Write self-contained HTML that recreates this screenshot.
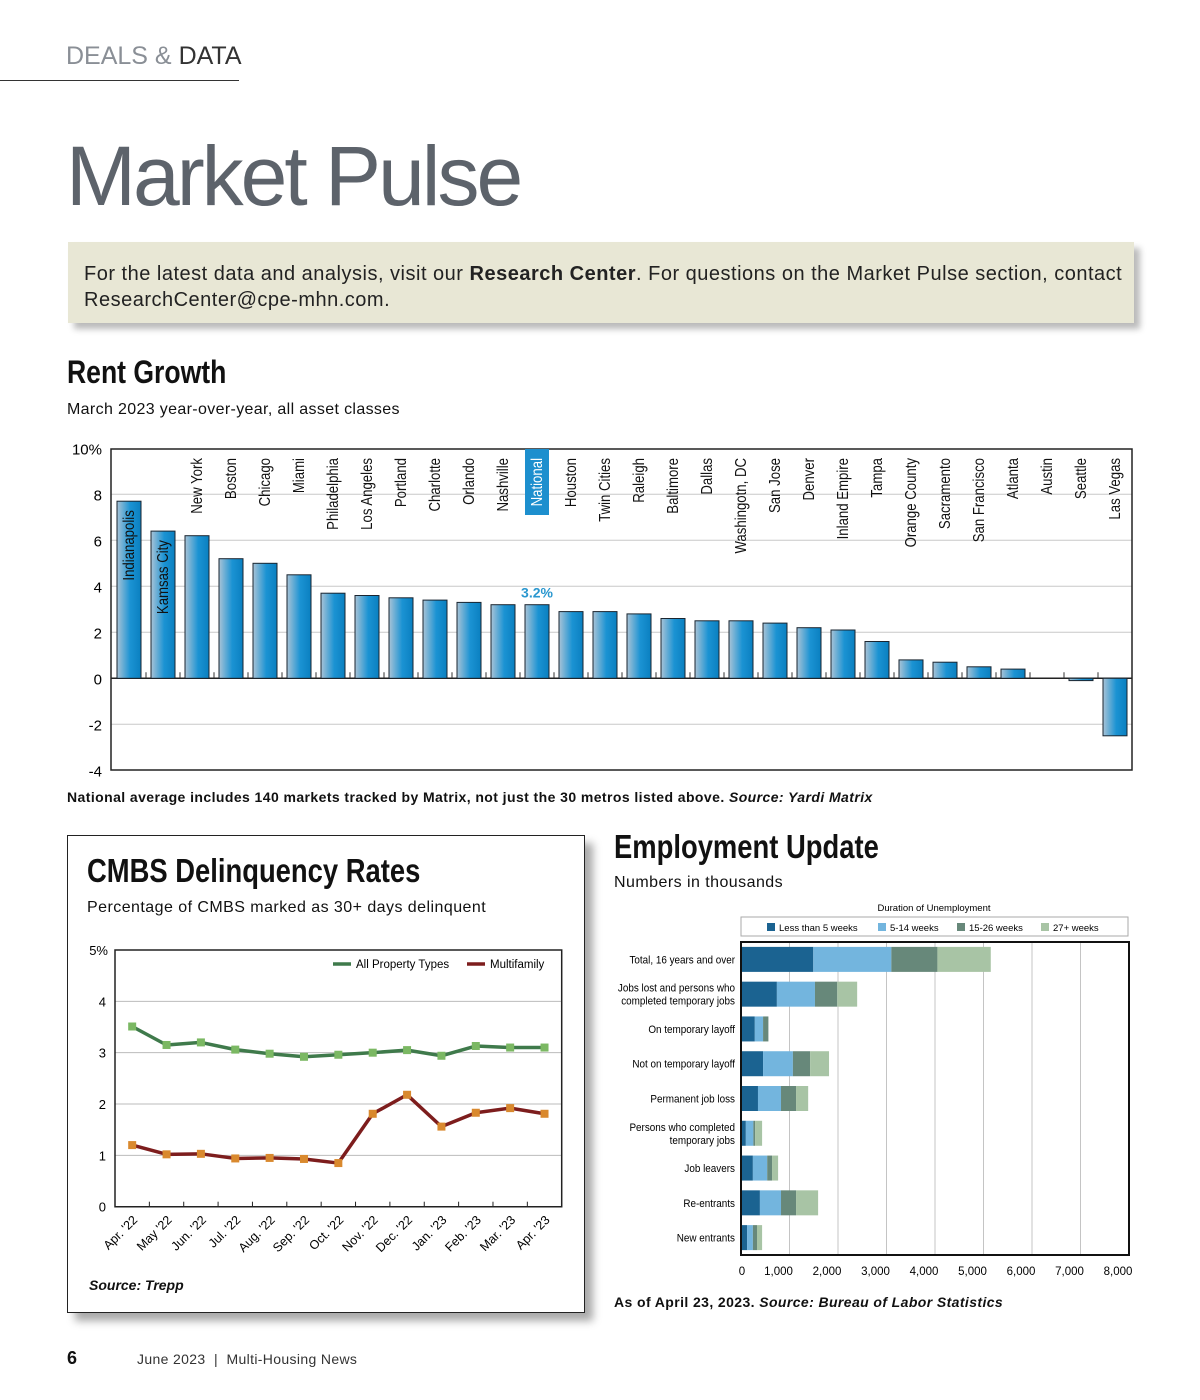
<!DOCTYPE html>
<html><head><meta charset="utf-8">
<style>
body{margin:0;width:1200px;height:1400px;background:#fff;font-family:"Liberation Sans",sans-serif;position:relative;overflow:hidden;color:#111}
.abs{position:absolute;white-space:nowrap}
.narrow{font-family:"Liberation Sans",sans-serif;font-weight:bold;transform:scaleX(0.83);transform-origin:0 0}
.sp{letter-spacing:0.35px}
svg text{font-family:"Liberation Sans",sans-serif}
#svg{z-index:5;pointer-events:none}
</style></head><body>
<div class="abs" style="left:66px;top:42px;font-size:25px;"><span style="color:#8a8f96">DEALS &amp; </span><span style="color:#333">DATA</span></div>
<div class="abs" style="left:0;top:80px;width:239px;height:1px;background:#333"></div>
<div class="abs" style="left:66px;top:128px;font-size:84px;color:#5d636b;letter-spacing:-3px;font-weight:300">Market Pulse</div>
<div class="abs" style="left:68px;top:242px;width:1066px;height:81px;background:#e8e7d5;box-shadow:6px 6px 6px #bbb"></div>
<div class="abs" style="left:84px;top:261px;font-size:20px;letter-spacing:0.5px;line-height:26px;color:#222">For the latest data and analysis, visit our <b>Research Center</b>. For questions on the Market Pulse section, contact<br>ResearchCenter@cpe-mhn.com.</div>

<div class="abs narrow" style="left:67px;top:354px;font-size:32px">Rent Growth</div>
<div class="abs sp" style="left:67px;top:401px;font-size:16px">March 2023 year-over-year, all asset classes</div>
<div class="abs" style="left:67px;top:789px;font-size:14px;font-weight:bold;letter-spacing:0.42px">National average includes 140 markets tracked by Matrix, not just the 30 metros listed above. <i>Source: Yardi Matrix</i></div>

<div class="abs" style="left:67px;top:835px;width:516px;height:476px;border:1.5px solid #222;box-shadow:8px 8px 8px #aaa;background:#fff"></div>
<div class="abs narrow" style="left:87px;top:852px;font-size:33px">CMBS Delinquency Rates</div>
<div class="abs sp" style="left:87px;top:899px;font-size:16px;letter-spacing:0.45px">Percentage of CMBS marked as 30+ days delinquent</div>
<div class="abs" style="left:89px;top:1277px;font-size:14px;font-weight:bold;font-style:italic">Source: Trepp</div>

<div class="abs narrow" style="left:614px;top:828px;font-size:33px">Employment Update</div>
<div class="abs sp" style="left:614px;top:874px;font-size:16px;letter-spacing:0.45px">Numbers in thousands</div>
<div class="abs" style="left:614px;top:1294px;font-size:14px;font-weight:bold;letter-spacing:0.4px">As of April 23, 2023. <i>Source: Bureau of Labor Statistics</i></div>

<div class="abs" style="left:67px;top:1348px;font-size:18px;font-weight:bold">6</div>
<div class="abs sp" style="left:137px;top:1351px;font-size:14px;color:#333">June 2023 &nbsp;|&nbsp; Multi-Housing News</div>
<svg class="abs" style="left:0;top:0" width="1200" height="1400" id="svg"></svg>

<script>
const rentCities=["Indianapolis","Kamsas City","New York","Boston","Chicago","Miami","Philadelphia","Los Angeles","Portland","Charlotte","Orlando","Nashville","National","Houston","Twin Cities","Raleigh","Baltimore","Dallas","Washingotn, DC","San Jose","Denver","Inland Empire","Tampa","Orange County","Sacramento","San Francisco","Atlanta","Austin","Seattle","Las Vegas"];
const rentValues=[7.7,6.4,6.2,5.2,5.0,4.5,3.7,3.6,3.5,3.4,3.3,3.2,3.2,2.9,2.9,2.8,2.6,2.5,2.5,2.4,2.2,2.1,1.6,0.8,0.7,0.5,0.4,0,-0.1,-2.5];
const rentTicks=[10,8,6,4,2,0,-2,-4];

const cmbsMonths=["Apr. '22","May '22","Jun. '22","Jul. '22","Aug. '22","Sep. '22","Oct. '22","Nov. '22","Dec. '22","Jan. '23","Feb. '23","Mar. '23","Apr. '23"];
const cmbsAll=[3.51,3.15,3.2,3.06,2.98,2.92,2.96,3.0,3.05,2.94,3.13,3.1,3.1];
const cmbsMulti=[1.2,1.02,1.03,0.94,0.95,0.93,0.85,1.81,2.18,1.56,1.83,1.92,1.81];
const cmbsTicks=[0,1,2,3,4,5];

const empCategories=[["Total, 16 years and over"],["Jobs lost and persons who","completed temporary jobs"],["On temporary layoff"],["Not on temporary layoff"],["Permanent job loss"],["Persons who completed","temporary jobs"],["Job leavers"],["Re-entrants"],["New entrants"]];
const empLess5=[1490,740,285,455,350,100,245,390,125];
const emp5to14=[1610,785,170,615,475,155,295,435,120];
const emp15to26=[950,460,110,355,310,35,100,310,85];
const emp27plus=[1100,410,0,390,250,145,125,455,105];
const empSeriesNames=["Less than 5 weeks","5-14 weeks","15-26 weeks","27+ weeks"];
const empTicks=[0,1000,2000,3000,4000,5000,6000,7000,8000];

const NS="http://www.w3.org/2000/svg";
const svg=document.getElementById('svg');
function mk(tag,attrs,parent){const e=document.createElementNS(NS,tag);for(const k in attrs)e.setAttribute(k,attrs[k]);(parent||svg).appendChild(e);return e;}
function txt(s,attrs){const t=mk('text',attrs);t.textContent=s;return t;}
const defs=mk('defs',{});
const lg=mk('linearGradient',{id:'barg',x1:'0',x2:'1',y1:'0',y2:'0'},defs);
mk('stop',{offset:'0','stop-color':'#a9c3d6'},lg);
mk('stop',{offset:'0.55','stop-color':'#1b93d3'},lg);
mk('stop',{offset:'1','stop-color':'#0a7fc0'},lg);

// ---- Rent growth chart
const rL=111,rR=1132,rT=449,rB=770;
const ry=v=>678.3-(v)*23;
const slot=34;
const rx=i=>117+slot*i;
rentTicks.forEach(t=>{
  const y=ry(t);
  if(t!==10&&t!==-4){const g=mk('line',{x1:rL,x2:rR,y1:y,y2:y,stroke:t===0?'#222':'#c8c8c8','stroke-width':t===0?1.5:1});
  
  }
  const l=txt((t===10?'10%':String(t)),{x:rL-9,y:y+6,'text-anchor':'end','font-size':15});
  
  
});
const rf=mk('rect',{x:rL,y:rT,width:rR-rL,height:rB-rT,fill:'none',stroke:'#222','stroke-width':1.5});


for(let i=1;i<rentCities.length;i++){
  const x=rx(i)-5;
  const tk=mk('line',{x1:x,x2:x,y1:ry(0),y2:ry(0)-6,stroke:'#333','stroke-width':1});
  
  
}
rentValues.forEach((v,i)=>{
  const x=rx(i),w=24,c=x+w/2;
  const top=Math.min(ry(v),ry(0)),h=Math.abs(ry(v)-ry(0));
  if(h>0.5){
    const b=mk('rect',{x:x,y:top,width:w,height:h,fill:'url(#barg)',stroke:'#1a2530','stroke-width':1});
    
    
  }
  const inside=(i<2);
  const ty=inside?ry(v)+9:458;
  if(rentCities[i]==='National'){
    const hb=mk('rect',{x:c-12,y:449,width:24,height:66,fill:'#1d8fce'});
    
    
    const vl=txt('3.2%',{x:c,y:ry(v)-7,'text-anchor':'middle','font-size':14,'font-weight':'bold',fill:'#2a97cf'});
    
    
  }
  const t=txt(rentCities[i],{x:0,y:0,'text-anchor':'end','font-size':15,fill:rentCities[i]==='National'?'#fff':'#111',transform:`translate(${c+5},${ty}) rotate(-90) scale(0.88,1.05)`});
  
  
});

// ---- CMBS chart
const cL=115,cR=561.7,cT=950,cB=1206.7;
const cy=v=>cB-v*(cB-cT)/5;
const cs=(cR-cL)/cmbsMonths.length;
const cx=i=>cL+cs*(i+0.5);
cmbsTicks.forEach(t=>{
  const y=cy(t);
  if(t>0&&t<5){const g=mk('line',{x1:cL,x2:cR,y1:y,y2:y,stroke:'#bbb','stroke-width':1});
  
  }
  const l=txt(t===5?'5%':String(t),{x:t===5?108:106,y:y+5,'text-anchor':'end','font-size':13});
  
  
});
const cf=mk('path',{d:`M${cL},${cT} V${cB} H${cR} V${cT} Z`,fill:'none',stroke:'#222','stroke-width':1.5});


cmbsMonths.forEach((m,i)=>{
  if(i>0){const tk=mk('line',{x1:cL+cs*i,x2:cL+cs*i,y1:cB,y2:cB-5,stroke:'#222'});
  
  }
  const t=txt(m,{x:0,y:0,'text-anchor':'end','font-size':12.5,transform:`translate(${cx(i)+6},${cB+14}) rotate(-45)`});
  
  
});
function series(vals,line,mark,name){
  const p=mk('polyline',{points:vals.map((v,i)=>cx(i)+','+cy(v)).join(' '),fill:'none',stroke:line,'stroke-width':3.5,'stroke-linejoin':'round'});
  
  
  vals.forEach((v,i)=>{
    const r=mk('rect',{x:cx(i)-4,y:cy(v)-4,width:8,height:8,fill:mark});
    
    
  });
}
series(cmbsAll,'#3f7a4b','#7bb863','all-property-types');
series(cmbsMulti,'#7d1d1d','#d9892e','multifamily');
[['All Property Types','#3f7a4b',333],['Multifamily','#7d1d1d',467]].forEach(([n,c,x])=>{
  const l=mk('line',{x1:x,x2:x+18,y1:964,y2:964,stroke:c,'stroke-width':3.5});
  
  
  const t=txt(n,{x:x+23,y:968,'font-size':11.5});
  
  
});

// ---- Employment chart
const eL=741,eR=1129,eT=942,eB=1255;
const ex=v=>eL+v*(eR-eL)/8000;
const band=(eB-eT)/empCategories.length;
const colors=['#1b6391','#73b5de','#67887a','#a8c4a5'];
const dt=txt('Duration of Unemployment',{x:934,y:911,'text-anchor':'middle','font-size':9.5});


const lb=mk('rect',{x:741,y:917,width:387,height:19,fill:'#fff',stroke:'#aaa'});


const lx=[767,878,957,1041];
empSeriesNames.forEach((n,k)=>{
  const s=mk('rect',{x:lx[k],y:923,width:8,height:8,fill:colors[k]});
  
  
  const t=txt(n,{x:lx[k]+12,y:931,'font-size':9.5});
  
  
});
empTicks.forEach(t=>{
  if(t>0&&t<8000){const g=mk('line',{x1:ex(t),x2:ex(t),y1:eT,y2:eB,stroke:'#c4c4c4'});
  
  }
  const l=txt(t.toLocaleString('en-US'),{x:t===0?ex(t)+1:ex(t)-11,y:1275,'text-anchor':'middle','font-size':11.5});
  
  
});
const allSeries=[empLess5,emp5to14,emp15to26,emp27plus];
empCategories.forEach((lines,i)=>{
  const c=eT+band*(i+0.5);
  let acc=0;
  allSeries.forEach((s,k)=>{
    const r=mk('rect',{x:ex(acc),y:c-12.5,width:ex(acc+s[i])-ex(acc),height:25,fill:colors[k]});
    
    
    acc+=s[i];
  });
  lines.forEach((ln,j)=>{
    const t=txt(ln,{x:0,y:0,'text-anchor':'end','font-size':11,transform:`translate(735,${c+4+(j-(lines.length-1)/2)*13}) scale(0.9,1)`});
    
    
  });
});
const ef=mk('rect',{x:eL,y:eT,width:eR-eL,height:eB-eT,fill:'none',stroke:'#111','stroke-width':2});


</script>
</body></html>
